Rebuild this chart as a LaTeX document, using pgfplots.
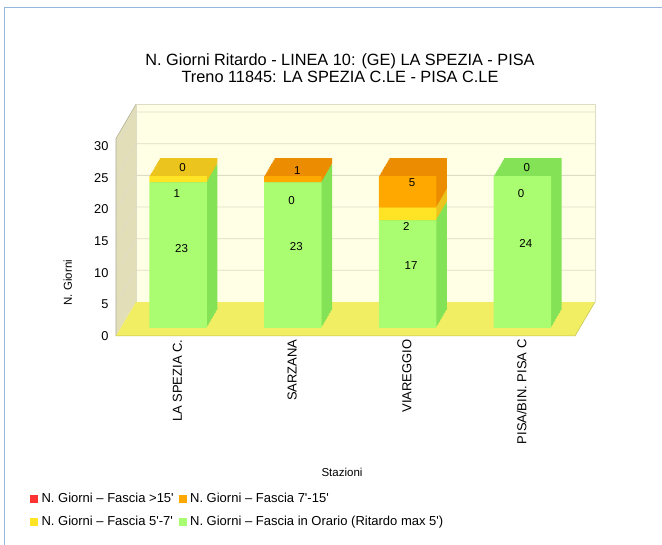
\documentclass[border=0pt]{standalone}
\usepackage{pgfplots}
\pgfplotsset{compat=1.18}
\usepackage{pgfplotstable}
\usepackage{fontspec}
\setmainfont{Liberation Sans}

\definecolor{gfront}{RGB}{170,252,112}
\definecolor{gside}{RGB}{132,226,86}
\definecolor{yfront}{RGB}{255,228,38}
\definecolor{yside}{RGB}{236,196,30}
\definecolor{ofront}{RGB}{255,168,0}
\definecolor{oside}{RGB}{236,140,0}
\definecolor{rfront}{RGB}{255,51,51}
\definecolor{rside}{RGB}{220,40,40}
\definecolor{backwall}{RGB}{255,255,230}
\definecolor{sidewall}{RGB}{226,222,184}
\definecolor{floorc}{RGB}{242,238,100}
\definecolor{gridc}{RGB}{222,220,196}
\definecolor{framec}{RGB}{150,182,226}

% giorni per fascia, dal basso verso l'alto
\pgfplotstableread{
x green yellow orange red
0 23 1 0 0
1 23 0 1 0
2 17 2 5 0
3 24 0 0 0
}\datatab

\pgfplotsset{
  barplane/.style={
    scale only axis, width=459pt, height=197.5pt,
    xmin=-0.5, xmax=3.5, ymin=0, ymax=31.2,
    hide axis, clip=false,
    ybar stacked, bar width=57.5pt,
  },
}

\begin{document}
\begin{tikzpicture}
\path[use as bounding box] (0,0) rectangle (662pt,545pt);
\draw[framec, line width=1pt] (4.5pt,0) -- (4.5pt,537pt) -- (662pt,537pt);

\node[align=center, font=\fontsize{16.3}{17}\selectfont] at (340pt,477pt)
  {N. Giorni Ritardo - LINEA 10: (GE) LA SPEZIA - PISA\\Treno 11845: LA SPEZIA C.LE - PISA C.LE};

% pareti, pavimento, assi e legenda
\begin{axis}[
  at={(116pt,209pt)}, anchor=south west,
  scale only axis, width=459pt, height=197.5pt,
  xmin=-0.5, xmax=3.5, ymin=0, ymax=31.2,
  clip=false,
  axis line style={draw=none}, tick style={draw=none},
  xtick={0,1,2,3},
  xticklabels={LA SPEZIA C., SARZANA, VIAREGGIO, PISA/BIN. PISA C},
  xticklabel style={rotate=90, anchor=east, yshift=-4pt, font=\fontsize{13}{15}\selectfont},
  ytick={0,5,...,30},
  yticklabel style={xshift=-4pt, font=\fontsize{12.8}{15}\selectfont},
  /pgf/number format/assume math mode=true,
  legend columns=2,
  legend cell align=left,
  legend image code/.code={\fill[#1] (0pt,-3.5pt) rectangle (7pt,3.5pt); \path (9pt,0pt);},
  legend style={at={(axis description cs:-0.194,-0.775)}, anchor=north west,
    draw=none, fill=none, font=\fontsize{13}{15}\selectfont, row sep=8pt,
    /tikz/every even column/.append style={column sep=3pt}},
]
\fill[sidewall] (axis cs:-0.5,0) -- (axis cs:-0.326,5.37) -- (axis cs:-0.326,36.6) -- (axis cs:-0.5,31.2) -- cycle;
\fill[backwall] (axis cs:-0.326,5.37) rectangle (axis cs:3.674,36.6);
\draw[gridc, line width=0.8pt] (axis cs:-0.5,5) -- (axis cs:-0.326,10.37) -- (axis cs:3.674,10.37);
\draw[gridc, line width=0.8pt] (axis cs:-0.5,10) -- (axis cs:-0.326,15.37) -- (axis cs:3.674,15.37);
\draw[gridc, line width=0.8pt] (axis cs:-0.5,15) -- (axis cs:-0.326,20.37) -- (axis cs:3.674,20.37);
\draw[gridc, line width=0.8pt] (axis cs:-0.5,20) -- (axis cs:-0.326,25.37) -- (axis cs:3.674,25.37);
\draw[gridc, line width=0.8pt] (axis cs:-0.5,25) -- (axis cs:-0.326,30.37) -- (axis cs:3.674,30.37);
\draw[gridc, line width=0.8pt] (axis cs:-0.5,30) -- (axis cs:-0.326,35.37) -- (axis cs:3.674,35.37);
\draw[gridc, line width=0.8pt] (axis cs:-0.326,5.37) -- (axis cs:-0.326,36.6) -- (axis cs:3.674,36.6) -- (axis cs:3.674,5.37);
\draw[gridc!80!black, line width=0.6pt] (axis cs:-0.5,0) -- (axis cs:-0.5,31.2) -- (axis cs:-0.326,36.6);
\fill[floorc] (axis cs:-0.5,0) -- (axis cs:3.5,0) -- (axis cs:3.674,5.37) -- (axis cs:-0.326,5.37) -- cycle;
\draw[floorc!80!black, line width=0.5pt] (axis cs:-0.5,0) -- (axis cs:3.5,0) -- (axis cs:3.674,5.37);
\node[rotate=90, font=\fontsize{11.5}{13}\selectfont] at (axis description cs:-0.105,0.27) {N. Giorni};
\node[font=\fontsize{11.5}{13}\selectfont] at (axis description cs:0.4924,-0.69) {Stazioni};
\addlegendimage{rfront}
\addlegendentry{N. Giorni – Fascia >15\textquotesingle}
\addlegendimage{ofront}
\addlegendentry{N. Giorni – Fascia 7\textquotesingle-15\textquotesingle}
\addlegendimage{yfront}
\addlegendentry{N. Giorni – Fascia 5\textquotesingle-7\textquotesingle}
\addlegendimage{gfront}
\addlegendentry{N. Giorni – Fascia in Orario (Ritardo max 5\textquotesingle)}
\end{axis}

% profondita' delle barre: copie spostate, dal fondo verso il davanti
\foreach \k in {12,11,...,1} {
\begin{axis}[barplane, at={(120.7pt+\k*0.875pt,217pt+\k*1.5pt)}, anchor=south west]
\addplot[fill=gside, draw=none] table[x=x, y=green] {\datatab};
\addplot[fill=yside, draw=none] table[x=x, y=yellow] {\datatab};
\addplot[fill=oside, draw=none] table[x=x, y=orange] {\datatab};
\addplot[fill=rside, draw=none] table[x=x, y=red] {\datatab};
\end{axis}
}

% facce frontali
\begin{axis}[barplane, at={(120.7pt,217pt)}, anchor=south west]
\addplot[fill=gfront, draw=none] table[x=x, y=green] {\datatab};
\addplot[fill=yfront, draw=none] table[x=x, y=yellow] {\datatab};
\addplot[fill=ofront, draw=none] table[x=x, y=orange] {\datatab};
\addplot[fill=rfront, draw=none] table[x=x, y=red] {\datatab};
\end{axis}

% etichette dei valori
\begin{axis}[
  at={(120.7pt,217pt)}, anchor=south west,
  scale only axis, width=459pt, height=197.5pt,
  xmin=-0.5, xmax=3.5, ymin=0, ymax=31.2,
  hide axis, clip=false,
  nodes near coords, point meta=explicit symbolic,
  nodes near coords style={anchor=center, font=\fontsize{11.5}{13}\selectfont, text=black},
]
\addplot[draw=none, mark=none] coordinates {(0.03,12.6)[23] (1.03,12.8)[23] (2.03,9.8)[17] (3.03,13.3)[24]};
\addplot[draw=none, mark=none] coordinates {(-0.01,21.3)[1] (0.99,20.1)[0] (1.99,16.1)[2] (2.99,21.2)[0]};
\addplot[draw=none, mark=none] coordinates {(0.04,25.3)[0] (1.04,24.8)[1] (2.04,22.9)[5] (3.04,25.3)[0]};
\end{axis}
\end{tikzpicture}
\end{document}
